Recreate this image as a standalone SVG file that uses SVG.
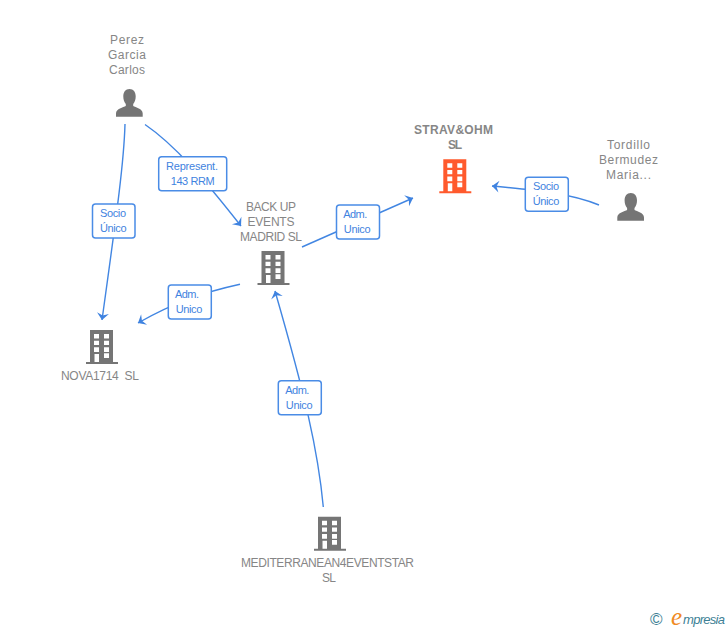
<svg xmlns="http://www.w3.org/2000/svg" width="728" height="630" viewBox="0 0 728 630">
<style>
text{font-family:"Liberation Sans",Arial,sans-serif}
.n{font-size:12px;fill:#868686;text-anchor:middle}
.b{font-weight:bold}
.e{font-size:11px;fill:#3f83e0;text-anchor:middle}
.c{fill:none;stroke:#4286e2;stroke-width:1.4}
.l{fill:#fff;stroke:#4a8ce6;stroke-width:1.5}
</style>
<defs>
<marker id="a" markerUnits="userSpaceOnUse" markerWidth="14" markerHeight="14" refX="12" refY="7" orient="auto" viewBox="0 0 14 14"><path d="M12 7L5 1L7.500 7L5 13Z" fill="#3f83e0"/></marker>
<symbol id="bld" width="32" height="34" viewBox="0 0 32 34" overflow="visible"><path fill-rule="evenodd" d="M4 0H27V32H32V34H0V32H4ZM8 4V8.500H13V4ZM18 4V8.500H23V4ZM8 10.800V15H13V10.800ZM18 10.800V15H23V10.800ZM8 17.300V22H13V17.300ZM18 17.300V22H23V17.300ZM8.500 24V32H13V24ZM18 23.300V28H23V23.300Z"/></symbol>
<symbol id="psn" width="27" height="28" viewBox="0 0 27 28" overflow="visible"><path d="M13.500 0C17.500 0 19.700 3 19.700 7.500C19.700 10.500 18.700 13 17.200 15V17C19.500 18.500 26.700 19.500 26.700 24.500V27.700H0V24.500C0 19.500 7.500 18.500 9.800 17V15C8.300 13 7.300 10.500 7.300 7.500C7.300 3 9.500 0 13.500 0Z"/></symbol>
</defs>
<rect width="728" height="630" fill="#fff"/>
<g id="connectors">
<path class="c" marker-end="url(#a)" d="M125 124C124 160 118 205 102 320"/>
<path class="c" marker-end="url(#a)" d="M145 124.500C175 145 205 180 241 226"/>
<path class="c" marker-end="url(#a)" d="M302 247L413 198"/>
<path class="c" marker-end="url(#a)" d="M599 205C570 193 535 190 492 186"/>
<path class="c" marker-end="url(#a)" d="M240 284.300C205 292 175 302 138 323"/>
<path class="c" marker-end="url(#a)" d="M323.300 507C318 450 305 395 275 291"/>
</g>
<g id="edge-labels">
<g id="l-socio-1"><rect class="l" x="92.500" y="204" width="42.500" height="34" rx="3"/><text class="e" x="113" y="217" textLength="26">Socio</text><text class="e" x="113.300" y="232" textLength="26.500">Único</text></g>
<g id="l-represent"><rect class="l" x="158.700" y="156.700" width="68" height="34" rx="3"/><text class="e" x="192" y="170" textLength="52">Represent.</text><text class="e" x="192.700" y="185" textLength="44">143 RRM</text></g>
<g id="l-adm-1"><rect class="l" x="168.300" y="285" width="43" height="34" rx="3"/><text class="e" x="187" y="298" textLength="24">Adm.</text><text class="e" x="189" y="313" textLength="26.700">Unico</text></g>
<g id="l-adm-2"><rect class="l" x="336.500" y="205" width="43" height="34" rx="3"/><text class="e" x="355.200" y="218" textLength="24">Adm.</text><text class="e" x="357.200" y="233" textLength="26.700">Unico</text></g>
<g id="l-socio-2"><rect class="l" x="525.300" y="177.300" width="43" height="34" rx="3"/><text class="e" x="546" y="190" textLength="26">Socio</text><text class="e" x="546" y="205" textLength="26.500">Único</text></g>
<g id="l-adm-3"><rect class="l" x="278.300" y="380.700" width="43" height="34" rx="3"/><text class="e" x="297.300" y="394" textLength="24">Adm.</text><text class="e" x="299.200" y="409" textLength="26.700">Unico</text></g>
</g>
<g id="perez" fill="#757575"><text class="n" x="127" y="44" textLength="34">Perez</text><text class="n" x="127" y="59" textLength="38">Garcia</text><text class="n" x="127" y="74" textLength="36">Carlos</text><use href="#psn" x="116" y="89"/></g>
<g id="tordillo" fill="#757575"><text class="n" x="628.500" y="149" textLength="43">Tordillo</text><text class="n" x="628.500" y="164" textLength="59">Bermudez</text><text class="n" x="628.500" y="179" textLength="45">Maria...</text><use href="#psn" x="617.300" y="193"/></g>
<g id="strav" fill="#ff5a2d"><text class="n b" x="453.500" y="134" textLength="79">STRAV&amp;OHM</text><text class="n b" x="455" y="149" textLength="14">SL</text><use href="#bld" x="439.300" y="159.300"/></g>
<g id="backup" fill="#757575"><text class="n" x="271" y="211" textLength="50">BACK UP</text><text class="n" x="271" y="226" textLength="47">EVENTS</text><text class="n" x="271" y="241" textLength="62">MADRID SL</text><use href="#bld" x="257.500" y="251"/></g>
<g id="nova" fill="#757575"><text class="n" x="100" y="380" xml:space="preserve" textLength="78">NOVA1714  SL</text><use href="#bld" x="86" y="330"/></g>
<g id="mediterranean" fill="#757575"><text class="n" x="327.500" y="567" textLength="173">MEDITERRANEAN4EVENTSTAR</text><text class="n" x="329" y="582" textLength="14">SL</text><use href="#bld" x="314" y="516.700"/></g>
<g id="logo"><text x="650" y="625" font-size="17" fill="#3d7f95">©</text><text x="671" y="625" font-size="25" font-style="italic" style="font-family:'Liberation Serif',serif" fill="#f08a24">e</text><text x="683" y="624" font-size="13" font-style="italic" fill="#3d7f95" textLength="42">mpresia</text></g>
</svg>
